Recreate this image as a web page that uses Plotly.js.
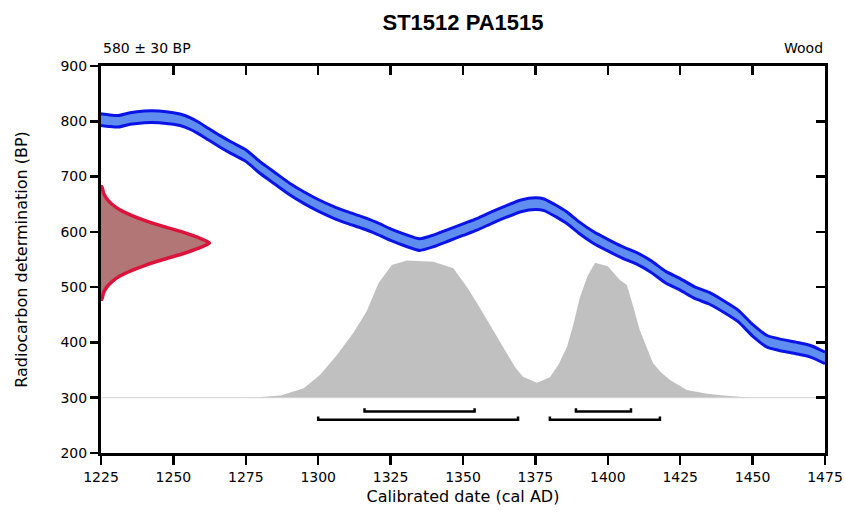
<!DOCTYPE html>
<html>
<head>
<meta charset="utf-8">
<script src="https://cdn.plot.ly/plotly-3.0.1.min.js"></script>
<style>html,body{margin:0;padding:0;background:#fff}#chart{width:845px;height:514px}</style>
</head>
<body>
<div id="chart"></div>
<script>
// Calibration curve (cal AD year, BP centre) and its half-width
const curveYears = [1225,1228,1231,1235,1240,1245,1250,1254,1258,1262,1266,1270,1275,1280,1285,1290,1295,1300,1305,1310,1315,1320,1325,1330,1335,1340,1345,1350,1355,1360,1365,1370,1375,1378,1382,1386,1390,1395,1400,1405,1410,1415,1420,1425,1430,1435,1440,1445,1450,1455,1460,1465,1470,1475];
const curveBP    = [803,801,800,805,808,808,805,800,790,777,764,752,738,716,697,678,662,648,636,626,617,607,595,585,577,584,594,604,614,626,637,647,651,649,638,625,608,590,576,563,552,537,518,505,490,480,465,448,422,402,395,390,384,372];
const curveErr   = 10.5;

// Radiocarbon measurement distribution 580 ± 30 BP (BP level, relative probability as years of width)
const measBP     = [682,670,660,650,640,630,620,610,600,590,580,570,560,550,540,530,520,510,500,490,478];
const measWidth  = [0.3,0.9,2.0,3.8,6.5,10.5,15.5,21.5,28,33.5,37.5,33.5,28,21.5,15.5,10.5,6.5,3.8,2.0,0.9,0.3];

// Calibrated probability distribution (cal AD year, plotted BP level; baseline 300)
const calYears = [1270,1279,1287,1295,1300.6,1306.4,1312.1,1316.7,1320.8,1325.4,1330.6,1335,1339.8,1346.7,1351.4,1355,1358.3,1362,1365.2,1368,1370.7,1375.5,1380,1383,1385.9,1388,1390.4,1393,1395.6,1400,1404.2,1406.6,1408.5,1411,1413.5,1415.6,1418.5,1421.5,1427.3,1434.3,1440,1444.6,1450];
const calBP    = [300,301,304,317,341,377,417,456,507,540,548,547,546,534,500,470,441,410,381,355,338,327,337,360,392,430,482,520,544,538,513,504,470,423,390,363,345,332,314,307,304,302,300];
const baseBP = 300;

// Calibrated ranges: 68.2% (upper row) and 95.4% (lower row)
const range68 = [[1316,1354],[1389,1408]];
const range95 = [[1300,1369],[1380,1418]];
const row68BP = 275, row95BP = 260;

const title = "ST1512 PA1515";
const leftNote = "580 ± 30 BP";
const rightNote = "Wood";
const xTicks = [1225,1250,1275,1300,1325,1350,1375,1400,1425,1450,1475];
const yTicks = [200,300,400,500,600,700,800,900];

const traces = [];
// baseline
traces.push({x:[1225,1475], y:[baseBP,baseBP], mode:'lines', line:{color:'#d4d4d4', width:1}, hoverinfo:'skip', showlegend:false});
// calibrated distribution
traces.push({x:calYears, y:calBP, mode:'lines', line:{width:0, color:'#c0c0c0'}, fill:'tonexty', fillcolor:'#c0c0c0', hoverinfo:'skip', showlegend:false});
// calibration curve band
const lower = curveBP.map(v => v - curveErr);
const upper = curveBP.map(v => v + curveErr);
traces.push({x:curveYears, y:lower, mode:'lines', line:{color:'#0a14e6', width:3, shape:'spline', smoothing:0.6}, hoverinfo:'skip', showlegend:false});
traces.push({x:curveYears, y:upper, mode:'lines', line:{color:'#0a14e6', width:3, shape:'spline', smoothing:0.6}, fill:'tonexty', fillcolor:'#5f8ef0', hoverinfo:'skip', showlegend:false});
// measurement distribution
const mx = [1225].concat(measWidth.map(w => 1225 + w)).concat([1225]);
const my = [measBP[0]].concat(measBP).concat([measBP[measBP.length-1]]);
traces.push({x:mx, y:my, mode:'lines', line:{color:'#dc143c', width:3.5, shape:'spline', smoothing:0.5}, fill:'toself', fillcolor:'#b27676', hoverinfo:'skip', showlegend:false});
// range brackets
function bracket(r, bp){
  const h = 6;
  return {x:[r[0],r[0],r[1],r[1]], y:[bp+h,bp,bp,bp+h], mode:'lines', line:{color:'#000', width:2.5}, hoverinfo:'skip', showlegend:false};
}
range68.forEach(r => traces.push(bracket(r,row68BP)));
range95.forEach(r => traces.push(bracket(r,row95BP)));
// dummy for mirror axes
traces.push({x:[1300], y:[500], xaxis:'x2', yaxis:'y2', mode:'markers', marker:{opacity:0}, hoverinfo:'skip', showlegend:false});

const tickFont = {family:'DejaVu Sans', size:14, color:'#000'};
const layout = {
  width:845, height:514,
  margin:{l:101, r:20, t:66, b:61},
  paper_bgcolor:'#fff', plot_bgcolor:'#fff',
  title:{text:title, font:{family:'Liberation Sans', size:22, weight:'bold', color:'#000'}, x:0.5, xref:'paper', y:1-22/514, yref:'container', yanchor:'middle'},
  xaxis:{range:[1225,1475], tickvals:xTicks, ticktext:xTicks.map(String), ticks:'outside', ticklen:9, tickwidth:2.5, tickcolor:'#000',
         showline:true, linewidth:3, linecolor:'#000', showgrid:false, zeroline:false, tickfont:tickFont,
         title:{text:'Calibrated date (cal AD)', font:{family:'DejaVu Sans', size:16, color:'#000'}, standoff:8}},
  yaxis:{range:[200,900], tickvals:yTicks, ticktext:yTicks.map(String), ticks:'outside', ticklen:8, tickwidth:2.5, tickcolor:'#000',
         showline:true, linewidth:3, linecolor:'#000', showgrid:false, zeroline:false, tickfont:tickFont,
         title:{text:'Radiocarbon determination (BP)', font:{family:'DejaVu Sans', size:16, color:'#000'}, standoff:29}},
  xaxis2:{overlaying:'x', matches:'x', side:'top', tickvals:xTicks, ticks:'inside', ticklen:9, tickwidth:2.5, tickcolor:'#000',
          showticklabels:false, showline:true, linewidth:3, linecolor:'#000', showgrid:false, zeroline:false},
  yaxis2:{overlaying:'y', matches:'y', side:'right', tickvals:yTicks, ticks:'inside', ticklen:9, tickwidth:2.5, tickcolor:'#000',
          showticklabels:false, showline:true, linewidth:3, linecolor:'#000', showgrid:false, zeroline:false},
  annotations:[
    {text:leftNote, xref:'paper', yref:'paper', x:0, y:1+18/387, xanchor:'left', yanchor:'middle', showarrow:false, font:{family:'DejaVu Sans', size:14, color:'#000'}},
    {text:rightNote, xref:'paper', yref:'paper', x:1, y:1+18/387, xanchor:'right', yanchor:'middle', showarrow:false, font:{family:'DejaVu Sans', size:14, color:'#000'}}
  ]
};
Plotly.newPlot('chart', traces, layout, {displayModeBar:false, staticPlot:true});
</script>
</body>
</html>
